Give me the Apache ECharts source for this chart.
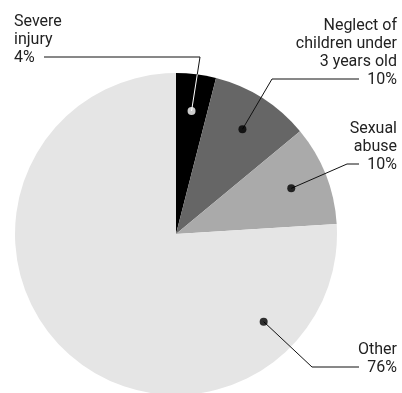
<!DOCTYPE html>
<html>
<head>
<meta charset="utf-8">
<script src="https://cdn.jsdelivr.net/npm/echarts@6/dist/echarts.min.js"></script>
<style>
  html, body { margin: 0; padding: 0; background: #fff; }
  #chart { width: 402px; height: 393px; }
</style>
</head>
<body>
<div id="chart"></div>
<script>
// Share of cases by type (percent)
const categories = ['Severe\ninjury', 'Neglect of\nchildren under\n3 years old', 'Sexual\nabuse', 'Other'];
const shares = [4, 10, 10, 76];
const sliceColors = ['#000000', '#666666', '#aaaaaa', '#e5e5e5'];
const dotColors = ['#ffffff', '#000000', '#000000', '#000000'];

const FONT = 'Roboto, "DejaVu Sans Condensed", sans-serif';
const CX = 176, CY = 234, R = 161;
const DOT_R = 0.77;          // dots sit at this fraction of the radius
const OTHER_DOT_ANGLE = 135; // the large slice's pointer sits off its midpoint

// slice mid-angles, clockwise from 12 o'clock
const total = shares.reduce((a, b) => a + b, 0);
let acc = 0;
const dotAngles = shares.map((v, i) => {
  const mid = (acc + v / 2) / total * 360;
  acc += v;
  return i === 3 ? OTHER_DOT_ANGLE : mid;
});
function polarToPx(r, deg) {
  const a = deg * Math.PI / 180;
  return [CX + R * r * Math.sin(a), CY - R * r * Math.cos(a)];
}

// callout layout: where each leader bends and ends, and where its text sits
const callouts = [
  { bend: [200, 57], end: [44, 57], textX: 14, align: 'left' },
  { bend: [272, 79], end: [359, 79], textX: 397, align: 'right' },
  { bend: [347, 164], end: [359, 164], textX: 397, align: 'right' },
  { bend: [312, 367], end: [359, 367], textX: 397, align: 'right' }
];
const LINE_H = 18;

const chart = echarts.init(document.getElementById('chart'), null, { renderer: 'canvas' });

// leader polylines from each dot through its bend to the text
const leaders = callouts.map((c, i) => ({
  type: 'polyline',
  silent: true,
  z: 10,
  shape: { points: [polarToPx(DOT_R, dotAngles[i]), c.bend, c.end] },
  style: { stroke: '#111111', lineWidth: 1, fill: null }
}));

// the first leader turns white where it crosses the black slice
const whiteStub = (function () {
  const d = polarToPx(DOT_R, dotAngles[0]);
  const b = callouts[0].bend;
  let start = b;
  for (let t = 0; t <= 1; t += 0.001) {
    const x = b[0] + (d[0] - b[0]) * t, y = b[1] + (d[1] - b[1]) * t;
    if (Math.hypot(x - CX, y - CY) <= R) { start = [x, y]; break; }
  }
  return {
    type: 'polyline',
    silent: true,
    z: 11,
    shape: { points: [start, d] },
    style: { stroke: '#ffffff', lineWidth: 1, fill: null }
  };
})();

chart.setOption({
  animation: false,
  backgroundColor: '#ffffff',
  polar: { center: [CX, CY], radius: R },
  angleAxis: { type: 'value', min: 0, max: 360, startAngle: 90, clockwise: true, show: false },
  radiusAxis: { type: 'value', min: 0, max: 1, show: false },
  graphic: { elements: leaders.concat([whiteStub]) },
  series: [
    {
      type: 'pie',
      center: [CX, CY],
      radius: R,
      startAngle: 90,
      clockwise: true,
      avoidLabelOverlap: false,
      silent: true,
      z: 2,
      data: categories.map((name, i) => ({
        name: name,
        value: shares[i],
        itemStyle: { color: sliceColors[i] }
      })),
      label: {
        show: true,
        position: 'outside',
        formatter: p => p.name + '\n' + p.value + '%',
        fontFamily: FONT,
        fontSize: 16,
        lineHeight: LINE_H,
        color: '#222222'
      },
      labelLine: { show: false },
      labelLayout: function (params) {
        const c = callouts[params.dataIndex];
        return {
          x: c.textX,
          y: c.end[1] + LINE_H / 2 + 1,
          align: c.align,
          verticalAlign: 'bottom'
        };
      }
    },
    {
      type: 'scatter',
      coordinateSystem: 'polar',
      silent: true,
      symbol: 'circle',
      symbolSize: 8,
      z: 20,
      data: dotAngles.map((a, i) => ({
        value: [DOT_R, a],
        itemStyle: { color: dotColors[i] }
      }))
    }
  ]
});
</script>
</body>
</html>
